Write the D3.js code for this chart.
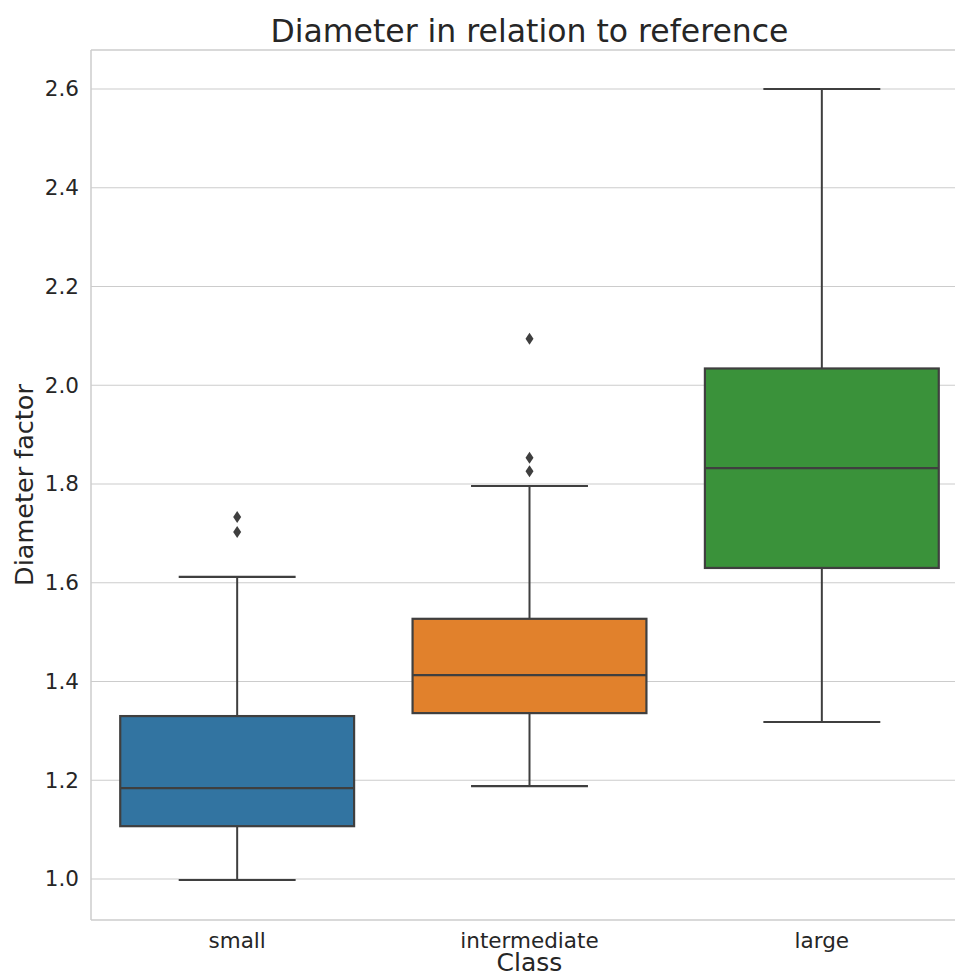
<!DOCTYPE html>
<html>
<head>
<meta charset="utf-8">
<script src="https://cdn.jsdelivr.net/npm/d3@7"></script>
<style>
  body { margin: 0; background: #fff; overflow: hidden; }
  svg { overflow: hidden; display: block; }
  text { font-family: "DejaVu Sans", sans-serif; fill: #262626; }
</style>
</head>
<body>
<div id="chart"></div>
<script>
// values
var categories = ["small", "intermediate", "large"];
var q1 = [1.107, 1.336, 1.630];
var medians = [1.184, 1.413, 1.832];
var q3 = [1.330, 1.527, 2.034];
var whiskerLow = [0.998, 1.188, 1.318];
var whiskerHigh = [1.612, 1.796, 2.600];
var outliers = [[1.703, 1.733], [1.826, 1.853, 2.094], []];
var colors = ["#3274a1", "#e1812c", "#3a923a"];
var yTicks = [1.0, 1.2, 1.4, 1.6, 1.8, 2.0, 2.2, 2.4, 2.6];

var width = 955, height = 978;
var margin = {top: 50, left: 91, bottom: 58};
var plotRight = 968; // axes run past the picture edge in the reference
var plotBottom = height - margin.bottom;

var svg = d3.select("#chart").append("svg")
    .attr("width", width)
    .attr("height", height);

var x = d3.scaleBand()
    .domain(categories)
    .range([margin.left, plotRight])
    .paddingInner(0)
    .paddingOuter(0);

var y = d3.scaleLinear()
    .domain([0.917, 2.679])
    .range([plotBottom, margin.top]);

//grid lines
svg.append("g")
    .selectAll("line")
    .data(yTicks)
    .enter()
    .append("line")
    .attr("x1", margin.left)
    .attr("x2", plotRight)
    .attr("y1", function(d) { return y(d); })
    .attr("y2", function(d) { return y(d); })
    .attr("stroke", "#cccccc")
    .attr("stroke-width", 1.2);

//spines (right one falls outside the picture)
var spines = [
    [margin.left, margin.top, plotRight, margin.top],
    [margin.left, plotBottom, plotRight, plotBottom],
    [margin.left, margin.top, margin.left, plotBottom]
];
svg.append("g")
    .selectAll("line")
    .data(spines)
    .enter()
    .append("line")
    .attr("x1", function(d) { return d[0]; })
    .attr("y1", function(d) { return d[1]; })
    .attr("x2", function(d) { return d[2]; })
    .attr("y2", function(d) { return d[3]; })
    .attr("stroke", "#cccccc")
    .attr("stroke-width", 1.5);

//y tick labels
var yAxis = d3.axisLeft(y)
    .tickValues(yTicks)
    .tickSize(0)
    .tickPadding(12)
    .tickFormat(d3.format(".1f"));
var gy = svg.append("g")
    .attr("transform", "translate(" + margin.left + ",0)")
    .call(yAxis);
gy.select(".domain").remove();
gy.selectAll("text")
    .style("font-size", "21.5px")
    .style("font-family", "DejaVu Sans")
    .attr("fill", "#262626");

//x tick labels
var xAxis = d3.axisBottom(x).tickSize(0).tickPadding(12.5);
var gx = svg.append("g")
    .attr("transform", "translate(0," + plotBottom + ")")
    .call(xAxis);
gx.select(".domain").remove();
gx.selectAll("text")
    .style("font-size", "21.5px")
    .style("font-family", "DejaVu Sans")
    .attr("fill", "#262626");

//boxes
var boxW = x.bandwidth() * 0.8;
var capW = boxW / 2;
var lineColor = "#3f3f3f";

var boxes = svg.append("g")
    .selectAll("g")
    .data(categories)
    .enter()
    .append("g");

boxes.each(function(c, i) {
    var g = d3.select(this);
    var cx = x(c) + x.bandwidth() / 2;

    //whiskers
    g.append("line")
        .attr("x1", cx).attr("x2", cx)
        .attr("y1", y(q1[i])).attr("y2", y(whiskerLow[i]))
        .attr("stroke", lineColor).attr("stroke-width", 2);
    g.append("line")
        .attr("x1", cx).attr("x2", cx)
        .attr("y1", y(q3[i])).attr("y2", y(whiskerHigh[i]))
        .attr("stroke", lineColor).attr("stroke-width", 2);
    //caps
    [whiskerLow[i], whiskerHigh[i]].forEach(function(v) {
        g.append("line")
            .attr("x1", cx - capW / 2).attr("x2", cx + capW / 2)
            .attr("y1", y(v)).attr("y2", y(v))
            .attr("stroke", lineColor).attr("stroke-width", 2.2);
    });
    //box
    g.append("rect")
        .attr("x", cx - boxW / 2)
        .attr("y", y(q3[i]))
        .attr("width", boxW)
        .attr("height", y(q1[i]) - y(q3[i]))
        .attr("fill", colors[i])
        .attr("stroke", lineColor)
        .attr("stroke-width", 2.2);
    //median
    g.append("line")
        .attr("x1", cx - boxW / 2).attr("x2", cx + boxW / 2)
        .attr("y1", y(medians[i])).attr("y2", y(medians[i]))
        .attr("stroke", lineColor).attr("stroke-width", 2.2);
    //outliers as thin diamonds
    g.selectAll("path.flier")
        .data(outliers[i])
        .enter()
        .append("path")
        .attr("class", "flier")
        .attr("d", function(v) {
            var yy = y(v);
            return "M" + cx + "," + (yy - 6) + "L" + (cx + 4) + "," + yy +
                "L" + cx + "," + (yy + 6) + "L" + (cx - 4) + "," + yy + "Z";
        })
        .attr("fill", lineColor);
});

//title and axis labels
svg.append("text")
    .attr("x", (margin.left + plotRight) / 2)
    .attr("y", 42)
    .attr("text-anchor", "middle")
    .style("font-size", "31.5px")
    .text("Diameter in relation to reference");

svg.append("text")
    .attr("x", (margin.left + plotRight) / 2)
    .attr("y", 971)
    .attr("text-anchor", "middle")
    .style("font-size", "25px")
    .text("Class");

svg.append("text")
    .attr("transform", "translate(33," + ((margin.top + plotBottom) / 2) + ") rotate(-90)")
    .attr("text-anchor", "middle")
    .style("font-size", "25.5px")
    .text("Diameter factor");
</script>
</body>
</html>
